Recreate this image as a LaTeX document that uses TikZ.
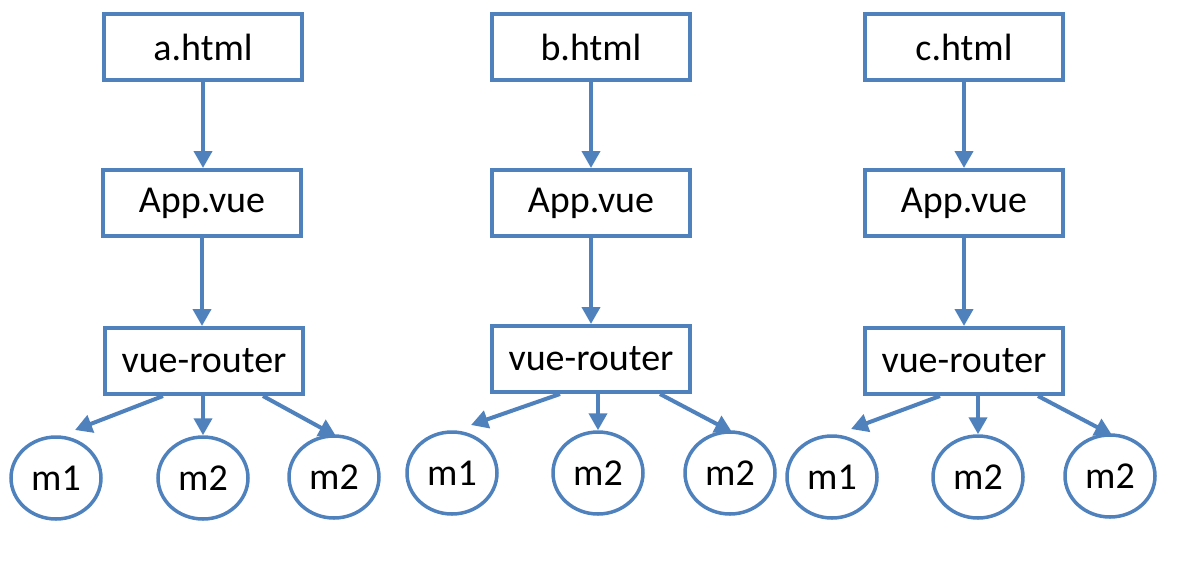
\documentclass[tikz,border=0pt]{standalone}
\usepackage{fontspec}
\setmainfont{Carlito}
\usetikzlibrary{shapes.geometric,arrows.meta,calc}
\definecolor{bl}{RGB}{79,129,189}
\tikzset{
  box/.style={draw=bl,line width=4pt,minimum width=198pt,minimum height=66pt,inner sep=0pt,font=\fontsize{38}{44}\selectfont},
  mod/.style={draw=bl,ellipse,line width=3.5pt,minimum width=90pt,minimum height=82pt,inner sep=0pt,font=\fontsize{38}{44}\selectfont},
  arr/.style={draw=bl,line width=4pt,-{Triangle[width=18pt,length=17pt]}}
}
\begin{document}
\begin{tikzpicture}[x=1pt,y=-1pt]
\useasboundingbox (0,0) rectangle (1194,574);
\foreach \g/\hx/\ax/\rx/\ry/\mxa/\mya/\mxb/\myb/\mxc/\myc/\ch/\ls/\rs in {
  A/203/202/204/361/56/478/203/478/334/477/a/-41/59,
  B/591/591/591/359/452/473/598/473/730/473/b/-31/69,
  C/964/964/964/361/832/477/978/477/1110/476/c/-24/74}{
  \node[box] (h\g) at (\hx,47) {\ch.html};
  \node[box] (a\g) at (\ax,203) {App.vue};
  \node[box] (r\g) at (\rx,\ry) {vue-router};
  \node[mod] (m1\g) at (\mxa,\mya) {m1};
  \node[mod] (m2\g) at (\mxb,\myb) {m2};
  \node[mod] (m3\g) at (\mxc,\myc) {m2};
  \draw[arr] (h\g.south) -- (h\g.south |- a\g.north);
  \draw[arr] (a\g.south) -- (a\g.south |- r\g.north);
  \draw[arr] ([xshift=\ls pt]r\g.south) -- ($(m1\g.center)+(19,-48)$);
  \draw[arr] (r\g.south -| m2\g.north) -- (m2\g.north);
  \draw[arr] ([xshift=\rs pt]r\g.south) -- ($(m3\g.center)+(2,-41)$);
}
\end{tikzpicture}
\end{document}
